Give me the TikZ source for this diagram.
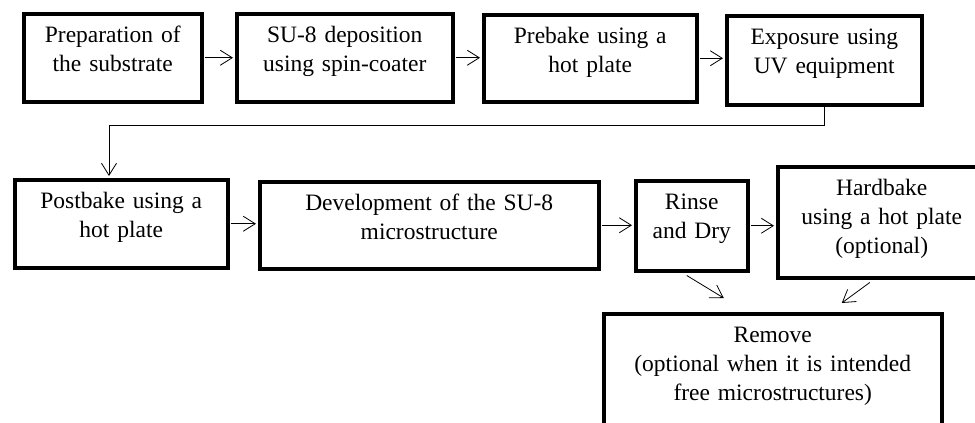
\documentclass[tikz,border=0pt]{standalone}
\usepackage{fontspec}
\setmainfont{Liberation Serif}
\usetikzlibrary{calc}
\usetikzlibrary{arrows.meta}
\usetikzlibrary{positioning}

\tikzset{
    stage/.style={draw, line width=3.5pt, anchor=north west, inner xsep=0pt, inner ysep=0pt,
        align=center, text height=29pt, font=\fontsize{23.5}{29}\selectfont},
    arr/.style={line width=0.8pt, shorten <=1pt, shorten >=2pt,
        -{Straight Barb[length=12pt,width=15pt]}}
}

\begin{document}
\begin{tikzpicture}[x=1pt,y=-1pt]
    \useasboundingbox (0,0) rectangle (975,423);
    \clip (0,0) rectangle (975,423);

    % Row 1: substrate to exposure
    \node[stage, text width=178pt, text depth=59pt] (prep) at (22,12) {Preparation of\\the substrate};
    \node[stage, text width=216pt, text depth=59pt] (spin) at (235,12) {SU-8 deposition\\using spin-coater};
    \node[stage, text width=213pt, text depth=58pt] (prebake) at (482,13) {Prebake using a\\hot plate};
    \node[stage, text width=195pt, text depth=60pt] (expo) at (725,14) {Exposure using\\UV equipment};

    % Row 2: postbake to hardbake (runs off the right edge)
    \node[stage, text width=213pt, text depth=59pt] (postbake) at (13,178) {Postbake using a\\hot plate};
    \node[stage, text width=339pt, text depth=58pt] (devel) at (258,180) {Development of the SU-8\\microstructure};
    \node[stage, text width=112pt, text depth=61pt] (rinse) at (634,179) {Rinse\\and Dry};
    \node[stage, text width=208pt, text depth=82pt] (hardbake) at (776,165) {Hardbake\\using a hot plate\\(optional)};

    % Last step (runs off the bottom edge)
    \node[stage, text width=338pt, text depth=130pt] (remove) at (602,312) {Remove\\(optional when it is intended\\free microstructures)};

    % Arrows
    \draw[arr] (prep.east) -- (prep.east -| spin.west);
    \draw[arr] (spin.east) -- (spin.east -| prebake.west);
    \draw[arr] (prebake.east) -- (prebake.east -| expo.west);
    \coordinate (bend) at (109,125);
    \draw[arr, shorten <=0pt] (expo.south) |- (bend) -- (bend |- postbake.north);
    \draw[arr] (postbake.east) -- (postbake.east -| devel.west);
    \draw[arr] (devel.east) -- (devel.east -| rinse.west);
    \draw[arr] (rinse.east) -- (rinse.east -| hardbake.west);
    \draw[arr, shorten <=0pt, shorten >=0pt] ([xshift=-5pt,yshift=-3pt]rinse.south) -- ([xshift=-49pt,yshift=14pt]remove.north);
    \draw[arr, shorten <=0pt, shorten >=0pt] ([xshift=-12pt,yshift=-3pt]hardbake.south) -- ([xshift=69pt,yshift=9pt]remove.north);
\end{tikzpicture}
\end{document}
